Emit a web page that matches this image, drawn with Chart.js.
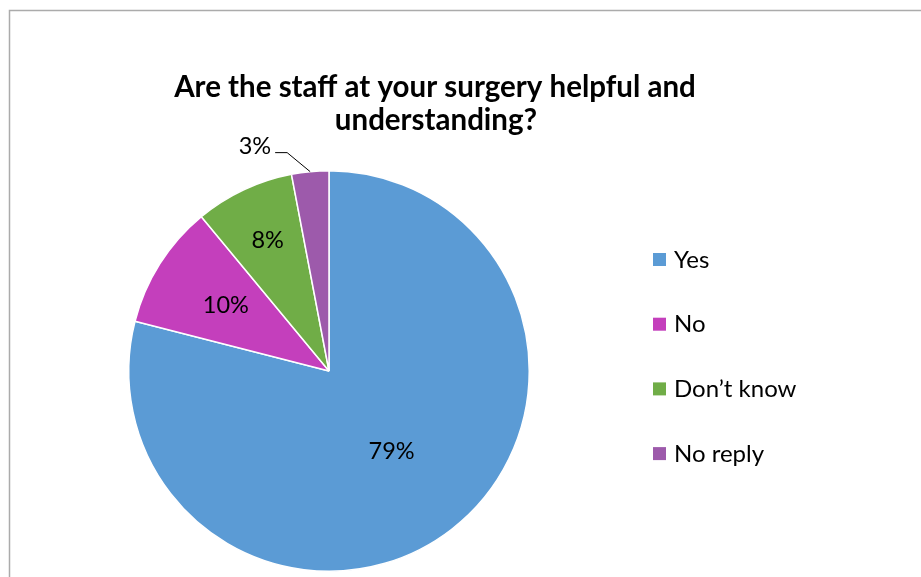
<!DOCTYPE html>
<html><head><meta charset="utf-8">
<script src="https://cdn.jsdelivr.net/npm/chart.js@4"></script>
<style>html,body{margin:0;padding:0;background:#fff;}#wrap{width:921px;height:577px;position:relative;}</style>
</head><body><div id="wrap"><canvas id="c" width="921" height="577"></canvas></div>
<script>
const titleLines = ["Are the staff at your surgery helpful and", "understanding?"];
const categories = ["Yes", "No", "Don\u2019t know", "No reply"];
const values = [79, 10, 8, 3];
const colors = ["#5B9BD5", "#C43FBC", "#70AD47", "#9D5AAB"];
const FONT = "Lato, 'Open Sans', sans-serif";

const decor = {
  id: 'decor',
  beforeDraw(chart) {
    const ctx = chart.ctx;
    ctx.save();
    ctx.strokeStyle = '#ababab';
    ctx.lineWidth = 1.5;
    ctx.beginPath();
    ctx.moveTo(9.5, 600); ctx.lineTo(9.5, 10.5); ctx.lineTo(940, 10.5);
    ctx.stroke();
    ctx.restore();
  },
  afterDraw(chart) {
    const ctx = chart.ctx;
    ctx.save();
    // title
    ctx.fillStyle = '#000';
    ctx.font = "bold 29.5px " + FONT;
    ctx.textAlign = 'center'; ctx.textBaseline = 'middle';
    ctx.fillText(titleLines[0], 435, 87);
    ctx.fillText(titleLines[1], 436, 120);
    // data labels
    const meta = chart.getDatasetMeta(0);
    const total = values.reduce((a, b) => a + b, 0);
    const fr = [0.51, 0.61, 0.72, 0];
    ctx.font = "23.5px " + FONT;
    meta.data.forEach((arc, i) => {
      const p = arc.getProps(['x', 'y', 'startAngle', 'endAngle', 'outerRadius'], true);
      const mid = (p.startAngle + p.endAngle) / 2;
      const txt = Math.round(values[i] / total * 100) + '%';
      if (i < 3) {
        ctx.textAlign = 'center';
        ctx.fillText(txt, p.x + Math.cos(mid) * p.outerRadius * fr[i], p.y + Math.sin(mid) * p.outerRadius * fr[i]);
      } else {
        const ex = p.x + Math.cos(mid) * p.outerRadius, ey = p.y + Math.sin(mid) * p.outerRadius;
        ctx.strokeStyle = '#000'; ctx.lineWidth = 1;
        ctx.beginPath();
        ctx.moveTo(ex, ey); ctx.lineTo(ex - 23, ey - 19); ctx.lineTo(ex - 35, ey - 19);
        ctx.stroke();
        ctx.textAlign = 'right';
        ctx.fillText(txt, ex - 39, ey - 25);
      }
    });
    // legend
    ctx.textAlign = 'left';
    ctx.font = "24px " + FONT;
    categories.forEach((c, i) => {
      const y = 259 + i * 64.7;
      ctx.fillStyle = colors[i];
      ctx.fillRect(653, y - 6, 13, 13);
      ctx.fillStyle = '#000';
      ctx.fillText(c, 674, y + 1);
    });
    ctx.restore();
  }
};

new Chart(document.getElementById('c'), {
  type: 'pie',
  data: { labels: categories, datasets: [{ data: values, backgroundColor: colors, borderColor: '#fff', borderWidth: 1.5 }] },
  options: {
    responsive: false, animation: false, events: [],
    layout: { padding: { left: 128, right: 391, top: 170, bottom: 5 } },
    plugins: { legend: { display: false }, title: { display: false }, tooltip: { enabled: false } }
  },
  plugins: [decor]
});
</script></body></html>
